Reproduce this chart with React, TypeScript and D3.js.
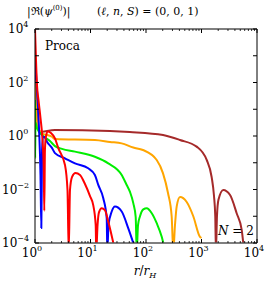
import * as d3 from "d3";
import React from "react";

// r/r_H and |Re psi|, one pair of arrays per curve
const brownR = [1, 1.042, 1.086, 1.13, 1.2, 2.29, 22.4, 51, 203, 409, 817, 1240, 1520, 1680, 1770, 1820, 1900, 2020, 2470, 3270, 4300, 5300, 5660];
const brownV = [190, 34, 6.1, 2.2, 1.41, 1.68, 1.54, 1.41, 1.09, 0.71, 0.4, 0.127, 0.03, 5.7e-3, 1e-3, 5e-5, 1e-3, 4.1e-3, 9.6e-3, 6.2e-3, 1.3e-3, 3.1e-4, 1e-4];

const orangeR = [1, 1.042, 1.086, 1.13, 1.34, 2.02, 2.29, 12, 22.4, 36.5, 59, 88, 156, 202, 249, 290, 310, 333, 357, 410, 541, 711, 939, 1000];
const orangeV = [124, 22, 3.3, 2.0, 1.26, 0.94, 0.77, 0.71, 0.6, 0.53, 0.37, 0.3, 0.127, 0.041, 7.4e-3, 1e-3, 5e-5, 4.7e-4, 2.3e-3, 5.2e-3, 3.4e-3, 1e-3, 1.7e-4, 1.55e-4];

const greenR = [1, 1.006, 1.02, 1.086, 1.34, 1.86, 2.29, 3.06, 5.25, 12, 20.9, 36.5, 44.9, 51.5, 59, 65.2, 68, 71.8, 78, 89.4, 103, 127, 156, 192, 205];
const greenV = [22, 0.15, 3.2, 1.99, 1.09, 0.65, 0.42, 0.33, 0.26, 0.168, 0.095, 0.035, 0.0148, 8.1e-3, 3.1e-3, 9.4e-4, 5e-5, 4.7e-4, 1e-3, 1.8e-3, 2e-3, 1.3e-3, 5.5e-4, 1.7e-4, 1e-4];

const blueR = [1, 1.086, 1.18, 1.256, 1.3, 1.34, 1.39, 1.48, 1.64, 2.02, 2.29, 3.47, 5.25, 9.1, 12, 13.8, 17, 19.6, 20.1, 21.1, 24.1, 27.6, 36.5, 48, 59];
const blueV = [1070, 52, 2.0, 0.035, 3.6e-4, 0.3, 0.92, 0.92, 0.61, 0.36, 0.23, 0.147, 0.095, 0.062, 0.035, 0.0148, 4.7e-3, 8.3e-4, 5e-5, 4.7e-4, 1.5e-3, 2.3e-3, 1.5e-3, 3.5e-4, 1e-4];

const redR = [1, 1.042, 1.086, 1.156, 1.256, 1.365, 1.44, 1.47, 1.51, 1.58, 1.71, 1.94, 2.29, 2.63, 3.47, 3.85, 4.05, 4.27, 4.64, 5.37, 6.47, 7.95, 9.8, 11.2, 12.4, 12.7, 13.4, 14.2, 15.9, 18.2, 20.9, 23.4, 25.8];
const redV = [1e4, 692, 81, 22, 4.7, 0.71, 0.054, 1.6e-3, 0.3, 1.0, 1.47, 1.29, 0.81, 0.35, 0.082, 9.6e-3, 5e-5, 9.6e-3, 0.029, 0.041, 0.035, 0.016, 5.7e-3, 2.6e-3, 4.7e-4, 5e-5, 4.7e-4, 1.4e-3, 2e-3, 1.7e-3, 6.3e-4, 2.4e-4, 1e-4];

const series = [
  { r: brownR, v: brownV, color: "#a52a2a" },
  { r: orangeR, v: orangeV, color: "#ffa500" },
  { r: greenR, v: greenV, color: "#00ee00" },
  { r: blueR, v: blueV, color: "#0000ff" },
  { r: redR, v: redV, color: "#ff0000" },
];

const xDecades = [0, 1, 2, 3, 4];
const yDecades = [-4, -3, -2, -1, 0, 1, 2, 3, 4];
const yLabelDecades = [-4, -2, 0, 2, 4];

const font = "DejaVu Serif";

export default function App() {
  const left = 35, right = 257, top = 29, bottom = 243;
  const x = d3.scaleLog().domain([1, 1e4]).range([left, right]);
  const y = d3.scaleLog().domain([1e-4, 1e4]).range([bottom, top]);

  const line = d3
    .line<[number, number]>()
    .x((d) => x(d[0]))
    .y((d) => y(d[1]))
    .curve(d3.curveMonotoneX);

  // minor ticks 2..9 in every decade of the x axis
  const minor: number[] = [];
  for (let d = 0; d < 4; d++) for (let k = 2; k < 10; k++) minor.push(k * Math.pow(10, d));

  const sup = (e: number) => (e < 0 ? "\u2212" + Math.abs(e) : String(e));

  return (
    <svg width={266} height={283} style={{ position: "absolute", left: 0, top: 0 }} fontFamily={font}>
      <defs>
        <clipPath id="plot">
          <rect x={left} y={top} width={right - left} height={bottom - top} />
        </clipPath>
      </defs>

      {/* title */}
      <text x={27} y={15} fontSize={11}>
        |ℜ(<tspan fontStyle="italic">ψ</tspan>
        <tspan fontSize={7} dy={-5}>(0)</tspan>
        <tspan dy={5}>)|</tspan>
      </text>
      <text x={97} y={15} fontSize={11}>
        (<tspan fontStyle="italic">ℓ</tspan>, <tspan fontStyle="italic">n</tspan>, <tspan fontStyle="italic">S</tspan>) = (0, 0, 1)
      </text>

      <g clipPath="url(#plot)">
        {series.map((s, i) => (
          <path
            key={i}
            d={line(s.r.map((r, j) => [r, s.v[j]] as [number, number])) || ""}
            fill="none"
            stroke={s.color}
            strokeWidth={2}
            strokeLinejoin="round"
          />
        ))}
      </g>

      {/* frame: left/right crisp black, top/bottom a bit heavier grey like the reference */}
      <line x1={left} x2={left} y1={top} y2={bottom} stroke="#000" />
      <line x1={right} x2={right} y1={top} y2={bottom} stroke="#000" />
      <line x1={left} x2={right} y1={top} y2={top} stroke="#555" strokeWidth={1.5} />
      <line x1={left} x2={right} y1={bottom} y2={bottom} stroke="#555" strokeWidth={1.5} />

      {/* x ticks */}
      {xDecades.map((d) => (
        <g key={"xt" + d}>
          <line x1={x(Math.pow(10, d))} x2={x(Math.pow(10, d))} y1={bottom} y2={bottom - 4} stroke="#000" />
          <line x1={x(Math.pow(10, d))} x2={x(Math.pow(10, d))} y1={top} y2={top + 4} stroke="#000" />
          <text x={x(Math.pow(10, d)) - 3} y={257} fontSize={12} textAnchor="middle">
            10<tspan fontSize={8} dy={-6}>{sup(d)}</tspan>
          </text>
        </g>
      ))}
      {minor.map((m) => (
        <g key={"xm" + m}>
          <line x1={x(m)} x2={x(m)} y1={bottom} y2={bottom - 2} stroke="#000" strokeWidth={0.8} />
          <line x1={x(m)} x2={x(m)} y1={top} y2={top + 2} stroke="#000" strokeWidth={0.8} />
        </g>
      ))}

      {/* y ticks */}
      {yDecades.map((d) => (
        <g key={"yt" + d}>
          <line x1={left} x2={left + 4} y1={y(Math.pow(10, d))} y2={y(Math.pow(10, d))} stroke="#000" />
          <line x1={right} x2={right - 4} y1={y(Math.pow(10, d))} y2={y(Math.pow(10, d))} stroke="#000" />
        </g>
      ))}
      {yLabelDecades.map((d) => (
        <text key={"yl" + d} x={d < 0 ? 2 : 8} y={y(Math.pow(10, d)) + 4} fontSize={12}>
          10<tspan fontSize={8} dy={-6}>{sup(d)}</tspan>
        </text>
      ))}

      {/* annotations */}
      <text x={45} y={50} fontSize={12}>Proca</text>
      <text x={218} y={235} fontSize={12}>
        <tspan fontStyle="italic">N</tspan> = 2
      </text>
      <text x={145} y={275} fontSize={12} textAnchor="middle">
        <tspan fontStyle="italic">r</tspan>/<tspan fontStyle="italic">r</tspan>
        <tspan fontStyle="italic" fontSize={8} dy={3}>H</tspan>
      </text>
    </svg>
  );
}
